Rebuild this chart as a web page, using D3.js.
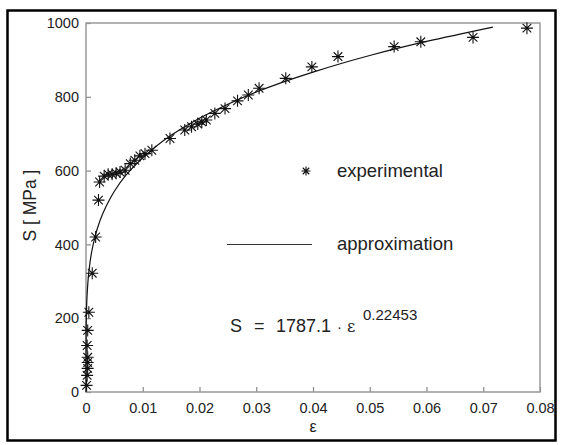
<!DOCTYPE html>
<html>
<head>
<meta charset="utf-8">
<script src="https://cdn.jsdelivr.net/npm/d3@7"></script>
<style>
  body { margin: 0; background: #fff; }
  svg { display: block; }
  text { font-family: "Liberation Sans", Arial, sans-serif; fill: #222; }
</style>
</head>
<body>
<svg id="chart" width="561" height="445"></svg>
<script>
// measured points (strain, stress in MPa)
var expStrain = [0.0001, 0.0002, 0.0003, 0.0003, 0.0003, 0.0002, 0.0003, 0.0005, 0.0011,
    0.0017, 0.0022, 0.0024, 0.0032, 0.0039, 0.0046, 0.0053, 0.006, 0.0069, 0.0078, 0.0086,
    0.0095, 0.0104, 0.0116, 0.0148, 0.0174, 0.0186, 0.0197, 0.0204, 0.0212, 0.0227, 0.0245,
    0.0267, 0.0286, 0.0305, 0.0352, 0.0398, 0.0444, 0.0543, 0.059, 0.0682, 0.0777];
var expStress = [18, 45, 64, 80, 94, 126, 167, 216, 322,
    420, 520, 569, 585, 590, 590, 593, 596, 601, 619, 628,
    640, 646, 655, 687, 710, 719, 726, 732, 737, 755, 768,
    789, 805, 823, 850, 881, 909, 936, 949, 961, 986];

// approximation curve
var fitStrain = [0, 0.00001, 0.00005, 0.0002, 0.0005, 0.001, 0.0015, 0.002, 0.003, 0.004,
    0.005, 0.007, 0.01, 0.015, 0.02, 0.025, 0.03, 0.04, 0.05, 0.06, 0.0717];
var fitStress = [0, 135, 195, 265, 325, 380, 415, 443, 485, 517,
    544, 587, 635, 696, 742, 780, 813, 867, 912, 950, 989];

var xTicks = [0, 0.01, 0.02, 0.03, 0.04, 0.05, 0.06, 0.07, 0.08];
var yTicks = [0, 200, 400, 600, 800, 1000];

var svg = d3.select("#chart");
var margin = { left: 86, top: 23, right: 21, bottom: 53 };
var width = 561 - margin.left - margin.right,
    height = 445 - margin.top - margin.bottom;

// outer frame
svg.append("rect")
    .attr("x", 7.5).attr("y", 10.5)
    .attr("width", 548).attr("height", 430)
    .attr("fill", "none")
    .attr("stroke", "#000")
    .attr("stroke-width", 2.5);

var g = svg.append("g").attr("transform", "translate(" + margin.left + "," + margin.top + ")");

var x = d3.scaleLinear().domain([0, 0.08]).range([0, width]);
var y = d3.scaleLinear().domain([0, 1000]).range([height, 0]);

// axes with inward ticks
var xAxis = g.append("g")
    .attr("transform", "translate(0," + height + ")")
    .call(d3.axisBottom(x).tickValues(xTicks).tickSize(-5).tickPadding(11)
        .tickFormat(function(d) { return d === 0 ? "0" : d3.format(".2f")(d); }));
var yAxis = g.append("g")
    .call(d3.axisLeft(y).tickValues(yTicks).tickSize(-5).tickPadding(7)
        .tickFormat(d3.format("d")));

[xAxis, yAxis].forEach(function(a) {
    a.select(".domain").remove();
    a.selectAll("line").attr("stroke", "#888").attr("stroke-width", 1.2);
    a.selectAll("text").attr("font-size", 14.5).attr("fill", "#222")
        .attr("font-family", "Liberation Sans, Arial, sans-serif");
});

// plot box
g.append("rect")
    .attr("width", width).attr("height", height)
    .attr("fill", "none")
    .attr("stroke", "#999")
    .attr("stroke-width", 1.5);

// axis titles
svg.append("text")
    .attr("x", x(0.04) + margin.left).attr("y", 432)
    .attr("text-anchor", "middle")
    .attr("font-family", "DejaVu Serif, serif")
    .attr("font-size", 16)
    .text("ε");
svg.append("text")
    .attr("transform", "translate(36," + (margin.top + height / 2 - 2) + ") rotate(-90)")
    .attr("text-anchor", "middle")
    .attr("font-size", 17.5)
    .text("S [ MPa ]");

// approximation line
var fitData = fitStrain.map(function(e, i) { return [e, fitStress[i]]; });
var line = d3.line()
    .x(function(d) { return x(d[0]); })
    .y(function(d) { return y(d[1]); })
    .curve(d3.curveMonotoneY);
g.append("path")
    .datum(fitData)
    .attr("fill", "none")
    .attr("stroke", "#111")
    .attr("stroke-width", 1.2)
    .attr("d", line);

// asterisk marker
function asterisk(sel, r) {
    var a = r * 0.72;
    sel.append("path")
        .attr("d", "M0," + (-r) + "V" + r + "M" + (-r) + ",0H" + r +
            "M" + (-a) + "," + (-a) + "L" + a + "," + a +
            "M" + (-a) + "," + a + "L" + a + "," + (-a))
        .attr("fill", "none")
        .attr("stroke", "#111")
        .attr("stroke-width", 1.1);
}

var expData = expStrain.map(function(e, i) { return [e, expStress[i]]; });
g.selectAll(".pt")
    .data(expData)
    .enter().append("g")
    .attr("class", "pt")
    .attr("transform", function(d) { return "translate(" + x(d[0]) + "," + y(d[1]) + ")"; })
    .each(function() { asterisk(d3.select(this), 6); });

// legend
var leg = svg.append("g");
asterisk(leg.append("g").attr("transform", "translate(306,171)"), 4.5);
leg.append("text").attr("x", 337).attr("y", 177).attr("font-size", 18.5).text("experimental");
leg.append("line")
    .attr("x1", 227).attr("x2", 312).attr("y1", 244.5).attr("y2", 244.5)
    .attr("stroke", "#333").attr("stroke-width", 1);
leg.append("text").attr("x", 337).attr("y", 250).attr("font-size", 18.5).text("approximation");

// formula, pieces placed separately so the wide spacing survives
var f = svg.append("text").attr("y", 332).attr("font-size", 18);
f.append("tspan").attr("x", 230).text("S");
f.append("tspan").attr("x", 254).text("=");
f.append("tspan").attr("x", 276).text("1787.1");
f.append("tspan").attr("x", 337).attr("font-size", 15).text("·");
f.append("tspan").attr("x", 347).attr("font-family", "DejaVu Serif, serif").attr("font-size", 16).text("ε");
f.append("tspan").attr("x", 363).attr("font-size", 15).attr("dy", -12).text("0.22453");
</script>
</body>
</html>
